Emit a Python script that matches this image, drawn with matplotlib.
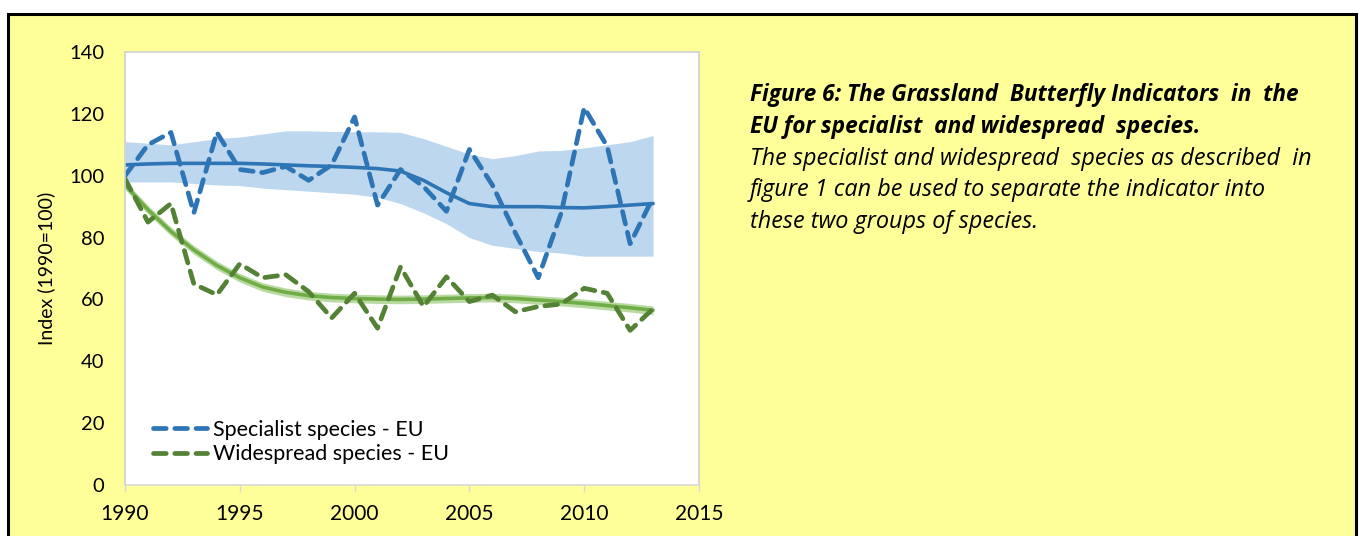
import matplotlib
matplotlib.use("Agg")
import matplotlib.pyplot as plt
from matplotlib.patches import Rectangle

years = list(range(1990, 2014))

specialist = [100, 110, 114, 88, 114, 102, 101, 103, 98.5, 103.5, 119, 90.5,
              102, 96.5, 88.5, 108.5, 97, 81.5, 67, 88, 122, 109.5, 78, 93]
specialist_trend = [103.5, 103.8, 104, 104, 104, 104, 103.8, 103.5, 103.2, 103,
                    102.7, 102.3, 101.5, 98.5, 94.5, 91, 90, 90, 90, 89.7,
                    89.6, 90, 90.5, 91]
specialist_hi = [111, 110.5, 110, 111, 112, 112.5, 113.5, 114.5, 114.5, 114.3,
                 114.2, 114.2, 114, 112, 109.5, 107, 105.5, 106.5, 108, 108.2,
                 109, 110, 111, 113]
specialist_lo = [98, 98, 98, 97.5, 97, 96.8, 96, 95.5, 95, 94.5,
                 94, 93, 91, 88, 84.5, 80, 77.5, 76.5, 75.5, 75,
                 74, 74, 74, 74]

widespread = [99, 85, 91, 65, 61.5, 71.5, 67, 68, 62.5, 54, 62, 50.7,
              70.5, 57.7, 67.3, 59.3, 61.4, 56, 57.7, 58.5, 63.6, 62, 50, 57]
widespread_trend = [97, 89, 82, 76, 71, 67, 64, 62.3, 61.2, 60.6,
                    60.3, 60.1, 60, 60.1, 60.3, 60.5, 60.6, 60.3, 59.8, 59.3,
                    58.7, 58, 57.3, 56.5]
widespread_band = 1.4

BLUE = "#2E75B6"
BLUE_BAND = "#BDD7EE"
GREEN = "#548235"
GREEN_TREND = "#70AD47"
GREEN_BAND = "#A9D18E"
YELLOW = "#FFFF99"

plt.rcParams["font.family"] = ["Lato", "DejaVu Sans"]

fig = plt.figure(figsize=(13.62, 5.36), dpi=100)
fig.patch.set_facecolor("white")
fig.add_artist(Rectangle((8 / 1362, -0.05), 1348 / 1362, 1 - 14 / 536 + 0.05,
                         transform=fig.transFigure, facecolor=YELLOW,
                         edgecolor="black", linewidth=2.2, zorder=-10))

ax = fig.add_axes([125 / 1362, 1 - 485 / 536, 574 / 1362, 433 / 536])
ax.set_facecolor("white")

ax.fill_between(years, specialist_lo, specialist_hi, color=BLUE_BAND, lw=0)
ax.fill_between(years, [v - widespread_band for v in widespread_trend],
                [v + widespread_band for v in widespread_trend],
                color=GREEN_BAND, alpha=0.8, lw=0)
ax.plot(years, specialist_trend, color=BLUE, lw=2.6, solid_capstyle="round")
ax.plot(years, widespread_trend, color=GREEN_TREND, lw=2.6,
        solid_capstyle="round")
ax.plot(years, specialist, color=BLUE, lw=3.4, dashes=(2.7, 1.8),
        dash_capstyle="round", label="Specialist species - EU")
ax.plot(years, widespread, color=GREEN, lw=3.4, dashes=(2.7, 1.8),
        dash_capstyle="round", label="Widespread species - EU")

ax.set_xlim(1990, 2015)
ax.set_ylim(0, 140)
ax.set_xticks(range(1990, 2016, 5))
ax.set_yticks(range(0, 141, 20))
ax.tick_params(axis="x", direction="out", length=5, width=1, color="#D9D9D9",
               labelsize=15, pad=9)
ax.tick_params(axis="y", length=0, labelsize=14.5, pad=15)
for side in ("top", "right", "left"):
    ax.spines[side].set_color("#D0D0D0")
    ax.spines[side].set_linewidth(1.2)
ax.spines["bottom"].set_color("#D9D9D9")
ax.spines["bottom"].set_linewidth(1.2)
ax.set_ylabel("Index (1990=100)", fontsize=14, labelpad=10)

ax.legend(loc="lower left", bbox_to_anchor=(0.034, 0.028), frameon=False,
          fontsize=15.5, handlelength=2.5, handletextpad=0.28,
          labelspacing=0.2, borderaxespad=0.0)

caption_font = ["Open Sans", "DejaVu Sans"]
fig.text(750 / 1362, 1 - 95 / 536, "Figure 6: The Grassland  Butterfly Indicators  in  the",
         fontsize=16.3, fontweight="bold", fontstyle="italic", va="center",
         family=caption_font)
fig.text(750 / 1362, 1 - 127 / 536, "EU for specialist  and widespread  species.",
         fontsize=16.3, fontweight="bold", fontstyle="italic", va="center",
         family=caption_font)
body = ["The specialist and widespread  species as described  in",
        "figure 1 can be used to separate the indicator into",
        "these two groups of species."]
for i, line in enumerate(body):
    fig.text(750 / 1362, 1 - (159 + 31.5 * i) / 536, line, fontsize=16.8,
             fontstyle="italic", va="center", family=caption_font)

fig.savefig("out.png", dpi=100)
